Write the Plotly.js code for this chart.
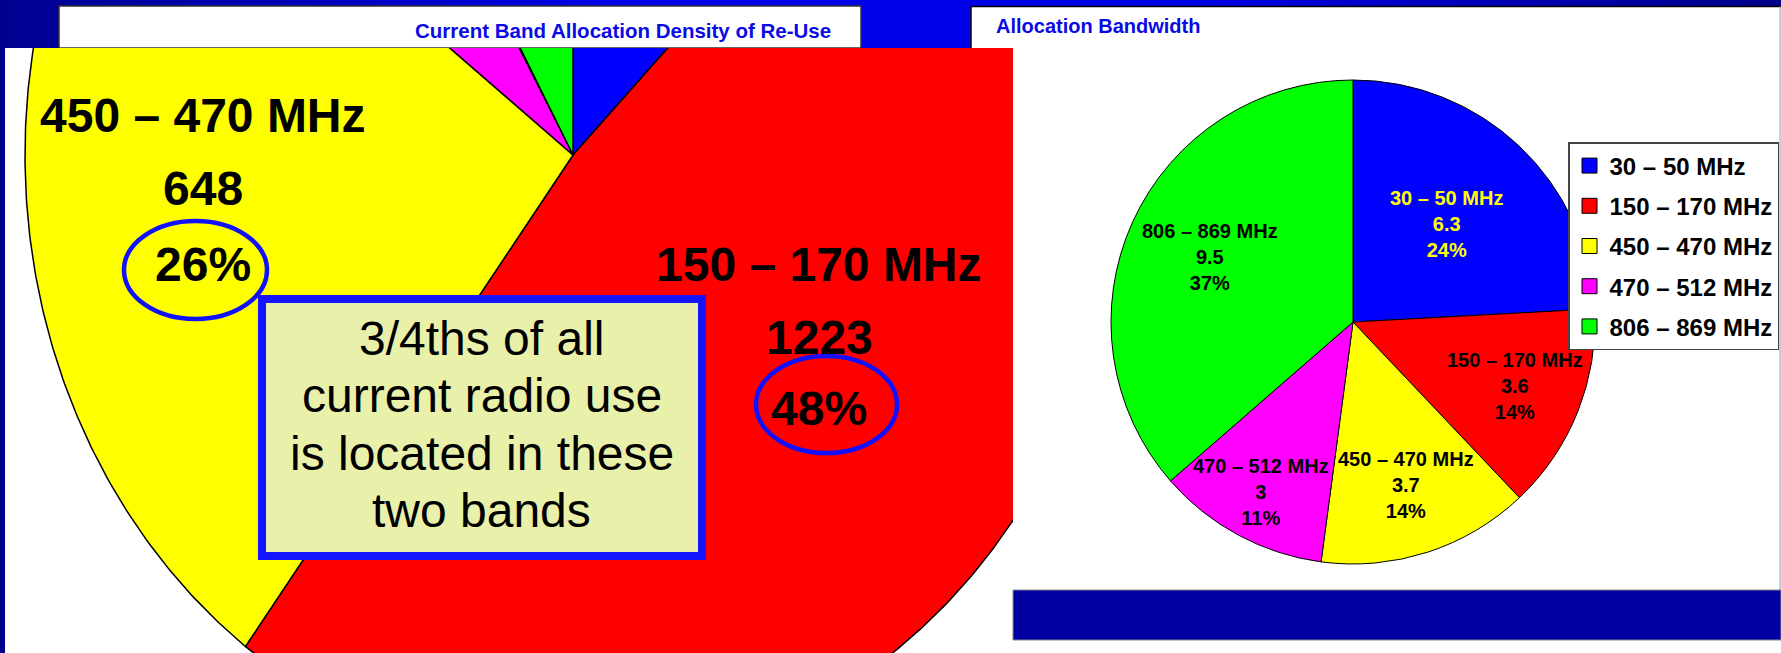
<!DOCTYPE html>
<html><head><meta charset="utf-8">
<script src="https://cdn.plot.ly/plotly-3.0.1.min.js"></script>
<style>
html,body{margin:0;padding:0;width:1781px;height:653px;overflow:hidden;
background:linear-gradient(to right,#000090 0%,#0000E6 34%,#0000E6 67%,#000088 100%);}
#chart{width:1781px;height:653px;}
</style></head><body><div id="chart"></div>
<script>
// ---------- data ----------
const bands = ["30 – 50 MHz", "150 – 170 MHz", "450 – 470 MHz", "470 – 512 MHz", "806 – 869 MHz"];
const bandColors = ["#0000FF", "#FF0000", "#FFFF00", "#FF00FF", "#00FF00"];
// Left chart: current band allocation density of re-use (unlabelled slices estimated from angles)
const reuseCounts = [318, 1223, 648, 162, 209];
const reusePctLabels = ["12%", "48%", "26%", "6%", "8%"];
// Right chart: allocation bandwidth (MHz)
const bwValues = [6.3, 3.6, 3.7, 3, 9.5];
const bwPctLabels = ["24%", "14%", "14%", "11%", "37%"];
const calloutLines = ["3/4ths of all", "current radio use", "is located in these", "two bands"];
const leftTitle = "Current Band Allocation Density of Re-Use";
const rightTitle = "Allocation Bandwidth";

// ---------- layout helpers ----------
const W = 1781, H = 653;
const FONT = "Arial, 'Liberation Sans', sans-serif";
const px = p => p / W;
const py = p => 1 - p / H;

const traces = [];
const shapes = [];
const annotations = [];

// panel backgrounds
shapes.push({type:'rect', xref:'paper', yref:'paper', x0:px(971), x1:px(1781), y0:py(653), y1:py(6),
  fillcolor:'#FFFFFF', line:{width:0}, layer:'below'});
shapes.push({type:'line', xref:'paper', yref:'paper', x0:px(971), x1:px(1781), y0:py(6.5), y1:py(6.5),
  line:{color:'#000', width:1.5}, layer:'below'});
shapes.push({type:'line', xref:'paper', yref:'paper', x0:px(971), x1:px(971), y0:py(48), y1:py(6.5),
  line:{color:'#000', width:1.5}, layer:'below'});
shapes.push({type:'line', xref:'paper', yref:'paper', x0:px(1780), x1:px(1780), y0:py(590), y1:py(6.5),
  line:{color:'#999', width:1}, layer:'below'});
shapes.push({type:'rect', xref:'paper', yref:'paper', x0:px(59), x1:px(861), y0:py(48), y1:py(6),
  fillcolor:'#FFFFFF', line:{color:'#333', width:1.5}, layer:'below'});
shapes.push({type:'rect', xref:'paper', yref:'paper', x0:px(1013), x1:px(1781), y0:py(640), y1:py(590),
  fillcolor:'#0000A0', line:{color:'#888', width:1}, layer:'below'});

// ---------- left (cropped, stretched) pie ----------
const total = reuseCounts.reduce((a, b) => a + b, 0);
let acc = 0;
reuseCounts.forEach((v, i) => {
  const a0 = acc / total * 360, a1 = (acc + v) / total * 360;
  acc += v;
  const xs = [0], ys = [0];
  const n = Math.max(2, Math.ceil((a1 - a0) / 0.5));
  for (let k = 0; k <= n; k++) {
    const a = (a0 + (a1 - a0) * k / n) * Math.PI / 180;
    xs.push(Math.sin(a)); ys.push(Math.cos(a));
  }
  xs.push(0); ys.push(0);
  traces.push({type:'scatter', x:xs, y:ys, mode:'lines', fill:'toself', fillcolor:bandColors[i],
    line:{color:'#000', width:1.5}, hoverinfo:'skip', showlegend:false, xaxis:'x', yaxis:'y'});
});

// labels for the two main bands (pixel centres of each line)
const leftLabelPos = {2: {x:203, y:[115, 188, 265]}, 1: {x:819, y:[265, 337, 408]}};
Object.keys(leftLabelPos).forEach(k => {
  const i = +k, p = leftLabelPos[k];
  const lines = [bands[i], String(reuseCounts[i]), reusePctLabels[i]];
  lines.forEach((t, j) => annotations.push({xref:'paper', yref:'paper', x:px(p.x), y:py(p.y[j]),
    xanchor:'center', yanchor:'middle', showarrow:false, text:t,
    font:{family:FONT, size:48, color:'#000', weight:'bold'}}));
});
// blue ellipses around the percentages
shapes.push({type:'circle', xref:'paper', yref:'paper', x0:px(124), x1:px(267), y0:py(319), y1:py(221),
  line:{color:'#1010FF', width:4.5}, layer:'above'});
shapes.push({type:'circle', xref:'paper', yref:'paper', x0:px(756), x1:px(897), y0:py(453), y1:py(356),
  line:{color:'#1010FF', width:4.5}, layer:'above'});

// callout box
shapes.push({type:'rect', xref:'paper', yref:'paper', x0:px(262), x1:px(702), y0:py(556), y1:py(299),
  fillcolor:'#E8F0AA', line:{color:'#1414FF', width:8}, layer:'above'});
calloutLines.forEach((t, j) => annotations.push({xref:'paper', yref:'paper', x:px(482), y:py(338 + j * 57.5),
  xanchor:'center', yanchor:'middle', showarrow:false, text:t, font:{family:FONT, size:48, color:'#000'}}));

// titles
annotations.push({xref:'paper', yref:'paper', x:px(623), y:py(30), xanchor:'center', yanchor:'middle',
  showarrow:false, text:leftTitle, font:{family:FONT, size:20.5, color:'#0A0AE6', weight:'bold'}});
annotations.push({xref:'paper', yref:'paper', x:px(994), y:py(26), xanchor:'left', yanchor:'middle',
  showarrow:false, text:rightTitle, font:{family:FONT, size:20, color:'#0A0AE6', weight:'bold'}});

// ---------- right pie ----------
const cx = 1353, cy = 322, R = 242;
traces.push({type:'pie', values:bwValues, labels:bands, sort:false, direction:'clockwise', rotation:0,
  marker:{colors:bandColors, line:{color:'#000', width:1}}, textinfo:'none', hoverinfo:'skip',
  domain:{x:[px(cx - R), px(cx + R)], y:[py(cy + R), py(cy - R)]}, showlegend:false});

// legend entries (one per band, so the rows can be spaced like the reference)
bands.forEach((b, i) => traces.push({type:'scatter', x:[null], y:[null], mode:'markers', name:b,
  legendgroup:'g' + i, showlegend:true, hoverinfo:'skip', xaxis:'x', yaxis:'y',
  marker:{symbol:'square', size:15, color:bandColors[i], line:{color:'#000', width:1}}}));

const labelRadius = [0.56, 0.72, 0.71, 0.80, 0.65];
const labelColors = ["#FFFF00", "#000", "#000", "#000", "#000"];
const bwTotal = bwValues.reduce((a, b) => a + b, 0);
let acc2 = 0;
bwValues.forEach((v, i) => {
  const mid = (acc2 + v / 2) / bwTotal * 2 * Math.PI;
  acc2 += v;
  const lx = cx + labelRadius[i] * R * Math.sin(mid);
  const ly = cy - labelRadius[i] * R * Math.cos(mid);
  annotations.push({xref:'paper', yref:'paper', x:px(lx), y:py(ly), xanchor:'center', yanchor:'middle',
    showarrow:false, text:bands[i] + "<br>" + v + "<br>" + bwPctLabels[i],
    font:{family:FONT, size:20, color:labelColors[i], weight:'bold'}});
});

const layout = {
  width:W, height:H, margin:{l:0, r:0, t:0, b:0},
  paper_bgcolor:'rgba(0,0,0,0)', plot_bgcolor:'#FFFFFF',
  xaxis:{domain:[px(5), px(1013)], range:[-1.0365, 0.8029], visible:false, fixedrange:true},
  yaxis:{domain:[0, py(48)], range:[-0.8124, 0.1746], visible:false, fixedrange:true},
  showlegend:true,
  legend:{x:px(1568), y:py(142), xanchor:'left', yanchor:'top', bgcolor:'#FFFFFF',
    bordercolor:'#444', borderwidth:1.5, tracegroupgap:6, itemwidth:30,
    font:{family:FONT, size:24, color:'#000', weight:'bold'}},
  shapes:shapes, annotations:annotations
};
Plotly.newPlot('chart', traces, layout, {staticPlot:true, displayModeBar:false});
</script></body></html>
